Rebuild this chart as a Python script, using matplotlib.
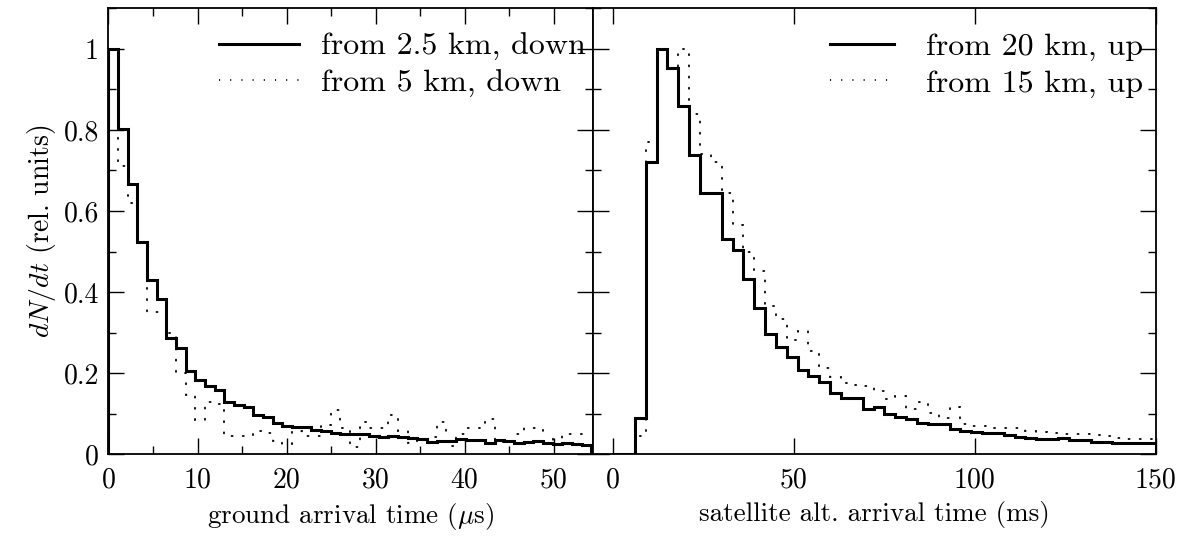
import numpy as np
import matplotlib
matplotlib.use('Agg')
import matplotlib.pyplot as plt
from matplotlib.ticker import MultipleLocator, FuncFormatter

plt.rcParams.update({
    'font.family': 'cmr10',
    'mathtext.fontset': 'cm',
    'axes.formatter.use_mathtext': True,
})

# ground arrival time histograms (us), 50 bins
t_ground = np.linspace(0, 54.23, 51)
down_25km = [1.0, 0.803, 0.667, 0.524, 0.429, 0.382, 0.288, 0.263, 0.205, 0.183,
             0.168, 0.158, 0.130, 0.122, 0.117, 0.097, 0.092, 0.077, 0.071, 0.067,
             0.068, 0.060, 0.058, 0.053, 0.050, 0.050, 0.049, 0.045, 0.043, 0.046,
             0.042, 0.040, 0.038, 0.031, 0.033, 0.034, 0.037, 0.035, 0.035, 0.029,
             0.035, 0.032, 0.028, 0.030, 0.032, 0.028, 0.025, 0.029, 0.025, 0.023]
down_5km = [1.0, 0.71, 0.62, 0.52, 0.35, 0.35, 0.30, 0.20, 0.146, 0.085,
            0.13, 0.125, 0.044, 0.044, 0.044, 0.058, 0.052, 0.034, 0.026, 0.057,
            0.044, 0.044, 0.073, 0.11, 0.065, 0.018, 0.08, 0.066, 0.066, 0.097,
            0.058, 0.028, 0.035, 0.042, 0.08, 0.02, 0.05, 0.064, 0.064, 0.086,
            0.03, 0.03, 0.049, 0.064, 0.064, 0.033, 0.04, 0.049, 0.049, 0.02]

# satellite altitude arrival time histograms (ms), 3 ms bins
t_sat = np.arange(0, 151, 3)
up_20km = [0, 0, 0.089, 0.72, 1.0, 0.952, 0.860, 0.739, 0.645, 0.645,
           0.53, 0.503, 0.432, 0.361, 0.296, 0.264, 0.240, 0.209, 0.194, 0.179,
           0.152, 0.138, 0.138, 0.113, 0.117, 0.099, 0.091, 0.086, 0.078, 0.075,
           0.075, 0.062, 0.058, 0.054, 0.052, 0.052, 0.048, 0.043, 0.041, 0.038,
           0.038, 0.040, 0.035, 0.035, 0.031, 0.031, 0.027, 0.027, 0.027, 0.027]
up_15km = [0, 0, 0.045, 0.77, 1.0, 0.95, 1.0, 0.84, 0.74, 0.72,
           0.645, 0.565, 0.50, 0.451, 0.365, 0.333, 0.281, 0.305, 0.255, 0.212,
           0.19, 0.176, 0.17, 0.169, 0.155, 0.136, 0.144, 0.113, 0.13, 0.103,
           0.09, 0.116, 0.076, 0.07, 0.07, 0.064, 0.065, 0.064, 0.058, 0.055,
           0.053, 0.05, 0.049, 0.049, 0.048, 0.044, 0.04, 0.037, 0.037, 0.037]

fig = plt.figure(figsize=(11.87, 5.39), dpi=100)
ax1 = fig.add_axes([0.0914, 0.1571, 0.4084, 0.8275])
ax2 = fig.add_axes([0.4998, 0.1571, 0.4741, 0.8275])

dot = (0, (0.6, 5.6))
fmt = FuncFormatter(lambda v, p: '%g' % round(v, 2))

ax1.stairs(down_25km, t_ground, color='k', lw=2.2, label='from 2.5 km, down')
ax1.stairs(down_5km, t_ground, color='k', lw=1.3, linestyle=dot,
           label='from 5 km, down')
ax2.stairs(up_20km, t_sat, color='k', lw=2.2, label='from 20 km, up')
ax2.stairs(up_15km, t_sat, color='k', lw=1.3, linestyle=dot,
           label='from 15 km, up')

for p in ax1.patches + ax2.patches:
    p.set_capstyle('round')

ax1.set_xlim(0, 54.46)
ax2.set_xlim(-5.5, 150.1)
for ax in (ax1, ax2):
    ax.set_ylim(0, 1.1)
    ax.yaxis.set_major_locator(MultipleLocator(0.2))
    ax.yaxis.set_minor_locator(MultipleLocator(0.1))
    ax.yaxis.set_major_formatter(fmt)
    ax.xaxis.set_major_formatter(fmt)
    ax.tick_params(which='both', direction='in', top=True, right=True,
                   labelsize=20, width=1)
    ax.tick_params(which='major', length=11.5, pad=9)
    ax.tick_params(which='minor', length=5.7)
    for s in ax.spines.values():
        s.set_linewidth(1.3)

ax1.tick_params(axis='y', pad=7)
ax1.xaxis.set_major_locator(MultipleLocator(10))
ax1.xaxis.set_minor_locator(MultipleLocator(5))
ax2.xaxis.set_major_locator(MultipleLocator(50))
ax2.tick_params(labelleft=False)

ax1.set_xlabel(r'ground arrival time ($\mu$s)', fontsize=19.5, labelpad=6)
ax2.set_xlabel('satellite alt. arrival time (ms)', fontsize=19.5, labelpad=6)
ax1.set_ylabel(r'$dN/dt$ (rel. units)', fontsize=20)

leg1 = ax1.legend(loc='upper right', bbox_to_anchor=(0.985, 0.945), frameon=False,
                  fontsize=23, handlelength=2.5, handletextpad=0.7,
                  borderaxespad=0, borderpad=0, labelspacing=0.25)
leg2 = ax2.legend(loc='upper right', bbox_to_anchor=(0.977, 0.945), frameon=False,
                  fontsize=23, handlelength=2.0, handletextpad=1.0,
                  borderaxespad=0, borderpad=0, labelspacing=0.25)

fig.savefig('out.png', dpi=100)
